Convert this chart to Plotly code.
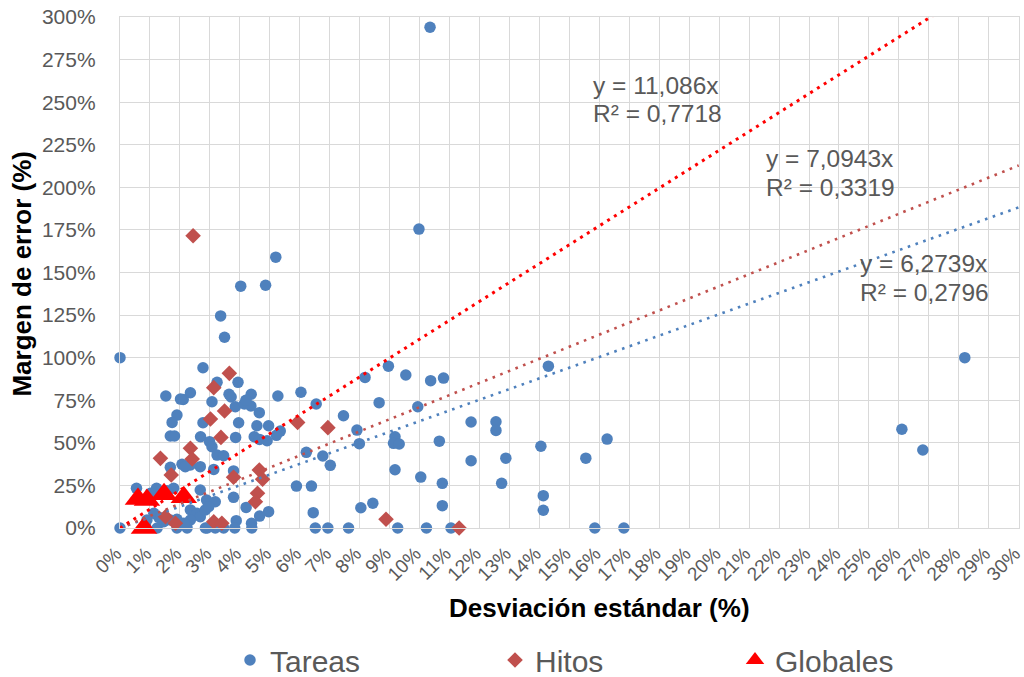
import plotly.graph_objects as go

# ---------------- data ----------------
tareas_x = [0, 0, 10.35, 9.98, 5.2, 4.86, 4.03, 3.36, 3.49, 28.2, 26.1, 26.8, 14.3, 16.26, 15.55, 15.85, 16.82, 14.05, 14.13, 14.13,
            8.96, 9.54, 10.37, 10.8, 8.65, 9.94, 11.72, 12.55, 12.55, 9.18, 9.13, 9.32, 10.66, 11.72, 12.88, 9.18, 10.04, 10.76, 12.74, 10.76, 9.27, 10.23, 11.05,
            5.27, 6.04, 6.55, 8.18, 5.35, 5.22, 7.46, 6.22, 6.77, 7.02, 7.91, 7.99, 5.89, 6.39, 6.45, 8.04, 8.44, 6.52, 6.94, 7.63,
            2.77, 3.24, 3.94, 2.35, 2.11, 3.64, 3.71, 4.38, 3.07, 3.85, 4.15, 4.37, 4.65, 2.77, 3.96, 4.57, 4.96, 2.69, 3.86, 4.48, 4.66, 4.91,
            2.99, 3.07, 3.24, 3.46, 2.68, 3.13, 3.79, 2.68, 2.89, 3.18, 3.79, 4.21, 4.96, 4.66, 4.39, 3.88, 2.85, 3.18, 3.83,
            1.53, 2.02, 4.2, 1.9, 1.74, 1.68, 1.82, 2.07, 2.35, 2.18, 1.68, 0.55, 1.22, 1.57, 1.79, 1.02,
            1.24, 1.9, 2.24, 2.91, 4.4, 2.35, 2.57, 2.68, 2.35, 2.13, 1.9, 1.68, 1.46, 1.29, 1.13, 0.9, 0.85, 3.46, 2.85, 2.96, 1.35]
tareas_y = [100, 0, 294, 175.5, 159, 142.5, 142, 124.5, 112, 100, 58, 45.8, 95, 52.2, 41, 0, 0, 48, 19, 10.4,
            95, 89.8, 86.5, 88, 73.6, 71.2, 62.2, 62.4, 57.3, 53.6, 49.7, 49.3, 51, 39.5, 41, 34.2, 29.9, 26.2, 26.2, 13.1, 0, 0, 0,
            77.5, 79.7, 72.8, 88.4, 56.9, 54.4, 65.9, 44.4, 42.3, 36.8, 57.5, 49.5, 24.6, 24.6, 9, 11.9, 14.5, 0, 0, 0,
            94.1, 85.5, 85.5, 79.4, 75.5, 78.5, 76.9, 78.5, 74.1, 71.2, 72.8, 71.6, 67.7, 61.8, 61.8, 60, 60, 53.6, 53.2, 53.6, 52, 51.2,
            50.7, 47.7, 42.8, 42.4, 36, 34.4, 33.5, 22.3, 16.4, 15.4, 18, 12.1, 9.6, 7, 2.8, 4.3, 0, 0, 0,
            77.5, 75.7, 75, 66.3, 62, 54, 54, 37.4, 37, 36, 35.6, 23.3, 23.3, 21.9, 23.3, 20.4,
            0, 0, 0, 0, 0, 10.6, 8.6, 6.6, 4.7, 2.8, 5.1, 4.7, 3.7, 6.3, 8.6, 4.7, 1.8, 0, 10.6, 12.5, 5.9]

hitos_x = [2.44, 3.65, 3.13, 3.49, 3.02, 3.37, 2.35, 2.41, 4.65, 3.79, 4.76, 4.59, 4.52, 3.13, 3.4, 1.35, 1.71, 1.85, 1.52, 5.93, 6.94, 8.88, 11.32]
hitos_y = [171.6, 90.8, 82.4, 68.7, 64, 53.2, 46.8, 40.5, 34, 29.8, 28.6, 20.4, 15.4, 3.7, 2.8, 40.9, 31.1, 2.8, 6.6, 62, 58.9, 5.1, 0]

globales_x = [0.6, 0.9, 1.47, 2.13, 0.8]
globales_y = [17, 16.4, 19.8, 18, 0]

series_names = ["Tareas", "Hitos", "Globales"]
trend_slopes = [6.2739, 7.0943, 11.086]
trend_r2 = [0.2796, 0.3319, 0.7718]

x_range = [0, 30]
y_range = [0, 300]
x_ticks = list(range(0, 31))

# ---------------- style ----------------
FONT = "Arial, Liberation Sans, sans-serif"
GRAY = "#595959"
GRID = "#D9D9D9"
c_tareas = "#4F81BD"
c_hitos = "#C0504D"
c_glob = "#FF0000"

fig = go.Figure()

fig.add_trace(go.Scatter(x=tareas_x, y=tareas_y, mode="markers", name=series_names[0],
                         marker=dict(symbol="circle", size=11.5, color=c_tareas),
                         cliponaxis=False, legend="legend"))
fig.add_trace(go.Scatter(x=hitos_x, y=hitos_y, mode="markers", name=series_names[1],
                         marker=dict(symbol="diamond", size=12, color=c_hitos),
                         cliponaxis=False, legend="legend2"))
fig.add_trace(go.Scatter(x=globales_x, y=globales_y, mode="markers", name=series_names[2],
                         marker=dict(symbol="triangle-up", size=23, color=c_glob),
                         cliponaxis=False, legend="legend3"))

trend_colors = [c_tareas, c_hitos, c_glob]
trend_widths = [2.6, 2.6, 3]
trend_dash = ["2.6px,5.6px", "2.6px,5.6px", "3px,5px"]
for s, col, w, d in zip(trend_slopes, trend_colors, trend_widths, trend_dash):
    fig.add_trace(go.Scatter(x=x_range, y=[s * x_range[0], s * x_range[1]], mode="lines",
                             line=dict(color=col, width=w, dash=d),
                             showlegend=False, hoverinfo="skip"))

# equation labels (pixel positions -> paper)
L, R, T, B = 119.5, 1019.5, 17, 528
W, H = 1024, 677
def px(xp):
    return (xp - L) / (R - L)
def py(yp):
    return (B - yp) / (B - T)

def fmt(v):
    return str(v).replace(".", ",")

label_pos = [(858, 263, 292), (764, 158, 187), (591, 85, 113)]
annotations = []
for s, r2, (lx, y1, y2) in zip(trend_slopes, trend_r2, label_pos):
    annotations.append(dict(text=f"y = {fmt(s)}x", x=px(lx), y=py(y1), xref="paper", yref="paper",
                            xanchor="left", yanchor="middle", showarrow=False,
                            font=dict(family=FONT, size=24.5, color=GRAY)))
    annotations.append(dict(text=f"R² = {fmt(r2)}", x=px(lx), y=py(y2), xref="paper", yref="paper",
                            xanchor="left", yanchor="middle", showarrow=False,
                            font=dict(family=FONT, size=24.5, color=GRAY)))

annotations.append(dict(text="<b>Margen de error (%)</b>", x=px(21), y=py(274), xref="paper", yref="paper",
                        textangle=-90, showarrow=False, xanchor="center", yanchor="middle",
                        font=dict(family=FONT, size=26, color="#000000")))
annotations.append(dict(text="<b>Desviación estándar (%)</b>", x=px(600), y=py(608), xref="paper", yref="paper",
                        showarrow=False, xanchor="center", yanchor="middle",
                        font=dict(family=FONT, size=26, color="#000000")))

leg_common = dict(orientation="h", xref="container", yref="container", yanchor="middle",
                  xanchor="left", bgcolor="rgba(0,0,0,0)", borderwidth=0,
                  font=dict(family=FONT, size=30, color=GRAY))

fig.update_layout(
    width=W, height=H,
    margin=dict(l=L, r=W - R, t=T, b=H - B, pad=0, autoexpand=False),
    paper_bgcolor="white", plot_bgcolor="white",
    font=dict(family=FONT, color=GRAY),
    xaxis=dict(range=[x_range[0], x_range[1] + 0.01], tickmode="array", tickvals=x_ticks,
               ticktext=[f"{v}%" for v in x_ticks], tickangle=-45, automargin=False,
               tickfont=dict(family=FONT, size=19, color=GRAY),
               ticklabeloverflow="allow", ticklabelshift=-4,
               showgrid=True, gridcolor=GRID, gridwidth=1.3, zeroline=False,
               showline=True, linecolor=GRID, linewidth=1.3, mirror=True,
               ticks="outside", ticklen=6, tickcolor="rgba(0,0,0,0)"),
    yaxis=dict(range=y_range, dtick=25, tick0=0, ticksuffix="%", automargin=False,
               tickfont=dict(family=FONT, size=21, color=GRAY),
               showgrid=True, gridcolor=GRID, gridwidth=1.3, zeroline=False,
               showline=True, linecolor=GRID, linewidth=1.3, mirror=True,
               ticks="outside", ticklen=19, tickcolor="rgba(0,0,0,0)"),
    legend=dict(x=230 / W, y=1 - 660 / H, **leg_common),
    legend2=dict(x=495 / W, y=1 - 660 / H, **leg_common),
    legend3=dict(x=735 / W, y=1 - 660 / H, **leg_common),
    annotations=annotations,
)

fig.write_html("out.html")
